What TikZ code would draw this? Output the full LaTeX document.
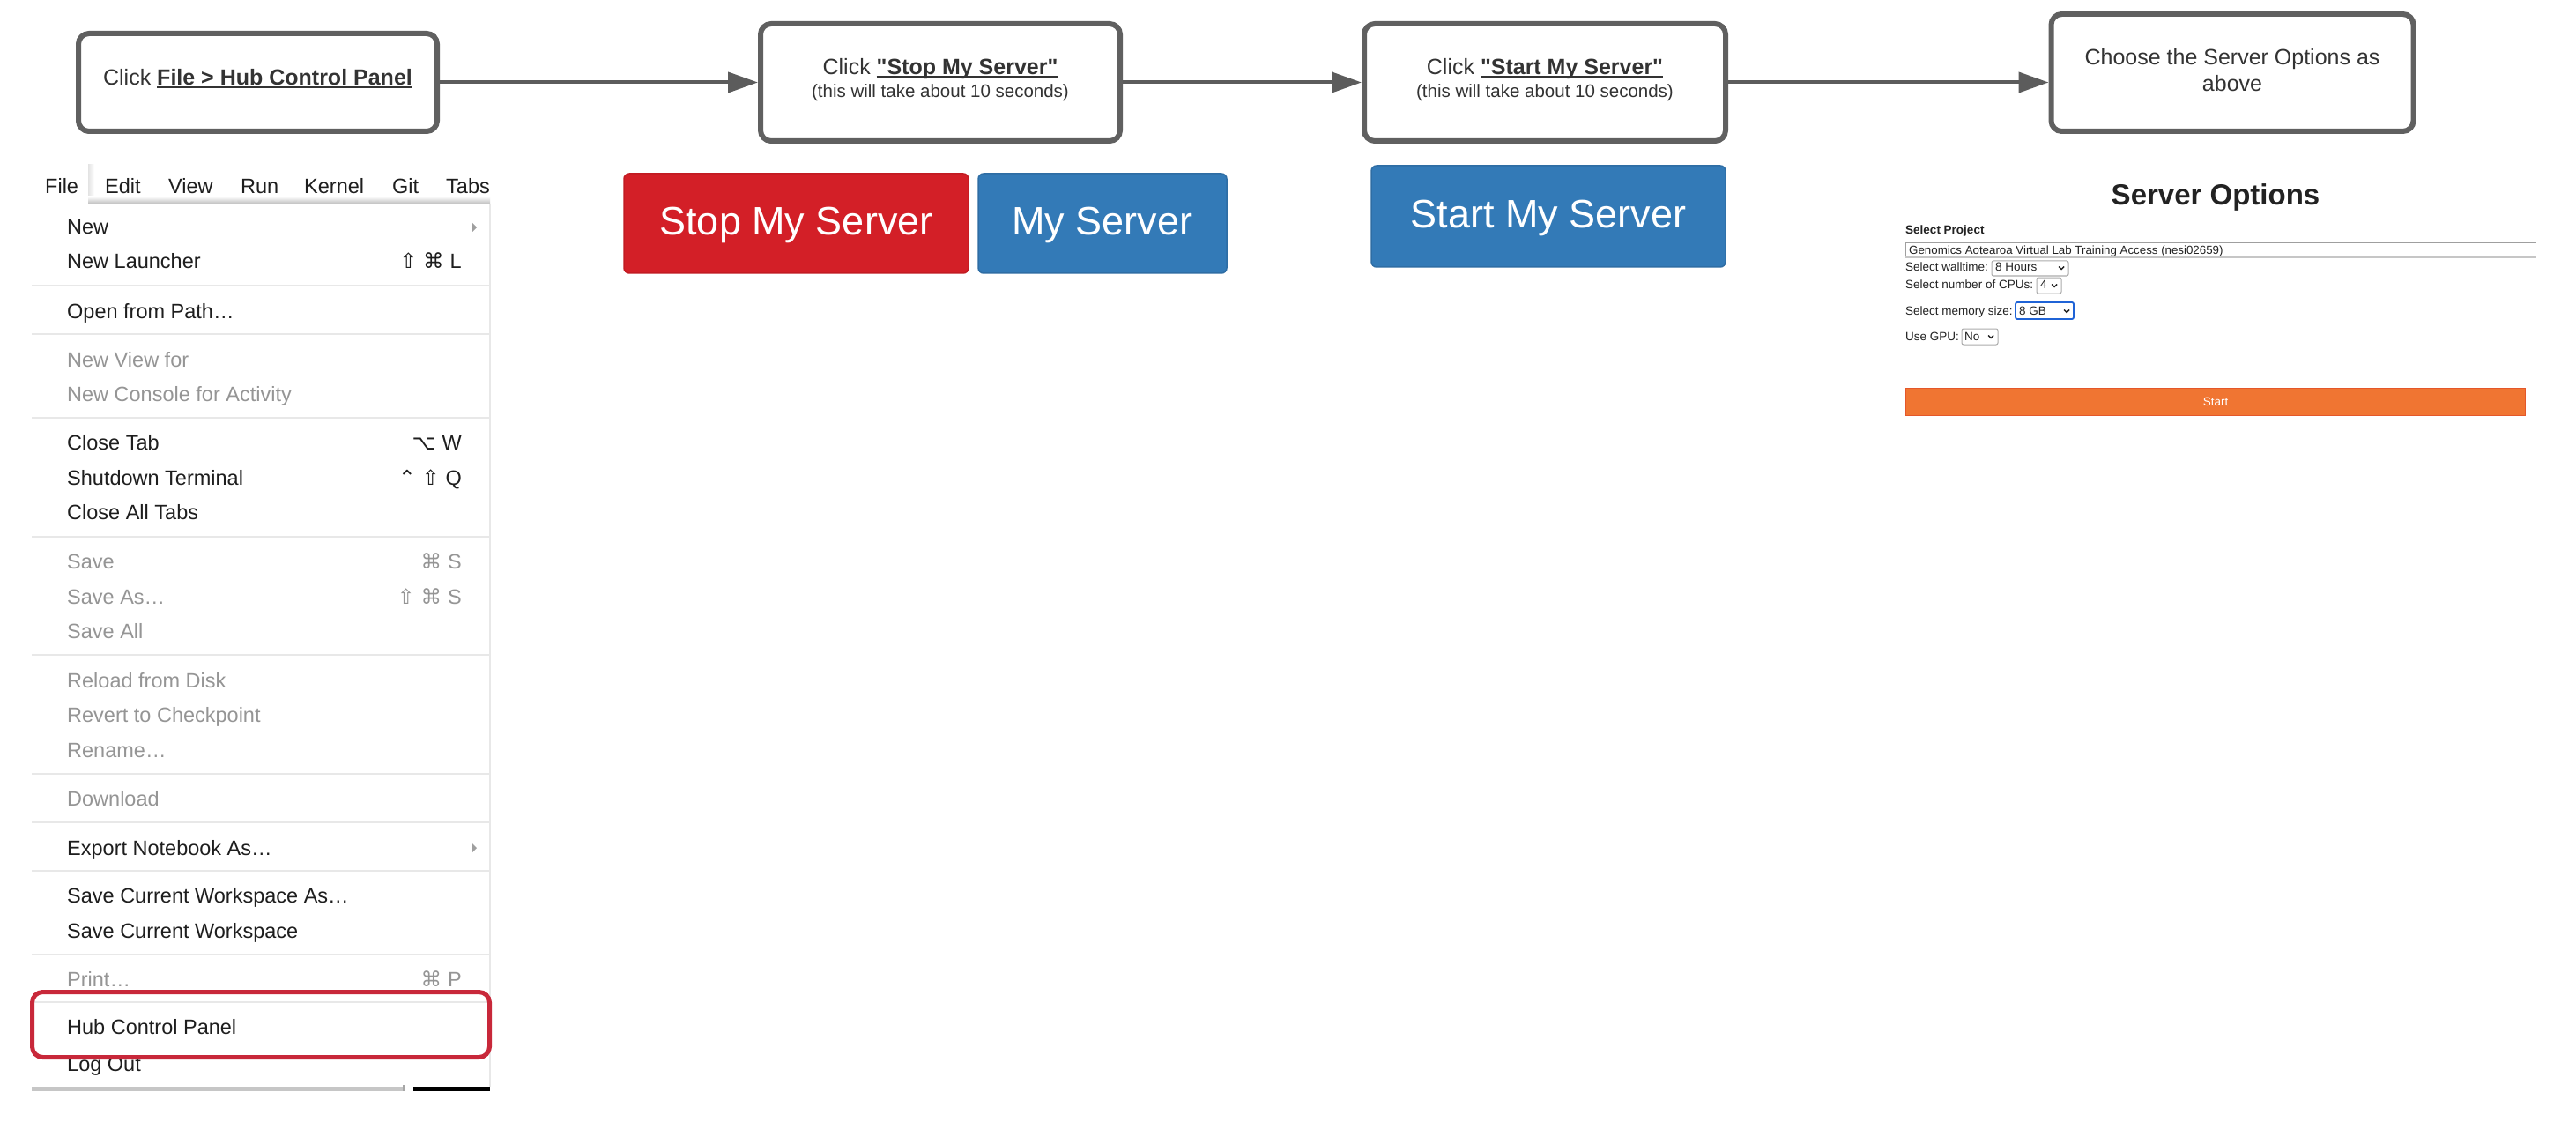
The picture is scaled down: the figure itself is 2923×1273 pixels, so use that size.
\documentclass[tikz,border=0pt]{standalone}
\usepackage{fontspec}
\setmainfont{Liberation Sans}[Ligatures=TeXOff]
\newfontfamily\symf{DejaVu Sans}
\usetikzlibrary{arrows.meta}

\definecolor{boxgray}{HTML}{606060}
\definecolor{arrgray}{HTML}{5C5C5C}
\definecolor{txtdark}{HTML}{333333}
\definecolor{btnred}{HTML}{D31F27}
\definecolor{btnredb}{HTML}{C21B22}
\definecolor{btnblue}{HTML}{337AB7}
\definecolor{btnblueb}{HTML}{2E6DA4}
\definecolor{startorange}{HTML}{F07532}
\definecolor{startborder}{HTML}{E4572A}
\definecolor{hilite}{HTML}{C8283A}
\definecolor{menutxt}{HTML}{1E1E1E}
\definecolor{menugray}{HTML}{959595}
\definecolor{sepgray}{HTML}{E8E8E8}
\definecolor{selblue}{HTML}{1F63D6}
\definecolor{fieldtxt}{HTML}{222222}

\newcommand\fs[1]{\fontsize{#1}{#1}\selectfont}
\newcommand\ulbold[1]{\setbox0\hbox{\bfseries #1}\rlap{\rule[-2.6pt]{\wd0}{1.9pt}}\box0}

\begin{document}
\begin{tikzpicture}[x=1pt,y=-1pt,
  stepbox/.style={draw=boxgray, line width=6pt, rounded corners=12pt, fill=white, inner sep=0pt},
  boxtxt/.style={anchor=base, font=\fs{25}, text=txtdark, inner sep=0pt},
  boxsmall/.style={anchor=base, font=\fs{20.5}, text=txtdark, inner sep=0pt},
  flow/.style={draw=arrgray, line width=4pt, -{Triangle[length=34pt,width=23pt]}},
  btn/.style={rounded corners=6pt, text=white, font=\fs{45}, inner sep=0pt, line width=1.5pt, text height=27pt, text depth=0pt},
  mtext/.style={anchor=base west, font=\fs{23.5}, text=menutxt, inner sep=0pt},
  mgray/.style={mtext, text=menugray},
  mkey/.style={anchor=base east, font=\fs{23.5}, text=menutxt, inner sep=0pt},
  mkeygray/.style={mkey, text=menugray},
  msep/.style={draw=sepgray, line width=2pt},
  subarrow/.style={fill=gray!75},
  formtxt/.style={anchor=base west, font=\fs{13.5}, text=fieldtxt, inner sep=0pt},
  dropbox/.style={draw=gray!65, line width=1pt, rounded corners=2pt, fill=white},
  chev/.style={draw=fieldtxt, line width=1.4pt}
]
\useasboundingbox (0,0) rectangle (2923,1273);
\fill[white] (0,0) rectangle (2923,1273);

% ---------- flow boxes ----------
\node[stepbox, minimum width=407pt, minimum height=111pt] (b1) at (292.5,93.5) {};
\node[boxtxt] (t1) at (292.5,97) {Click \ulbold{File > Hub Control Panel}};

\node[stepbox, minimum width=408pt, minimum height=133pt] (b2) at (1067,93.5) {};
\node[boxtxt] (t2a) at (1067,85) {Click \ulbold{"Stop My Server"}};
\node[boxsmall] (t2b) at (1067,111) {(this will take about 10 seconds)};

\node[stepbox, minimum width=410pt, minimum height=133pt] (b3) at (1753,93.5) {};
\node[boxtxt] (t3a) at (1753,85) {Click \ulbold{"Start My Server"}};
\node[boxsmall] (t3b) at (1753,111) {(this will take about 10 seconds)};

\node[stepbox, minimum width=411pt, minimum height=133pt] (b4) at (2533,82.5) {};
\node[boxtxt] (t4a) at (2533,74) {Choose the Server Options as};
\node[boxtxt] (t4b) at (2533,104) {above};

\draw[flow] (b1) -- (b2);
\draw[flow] (b2) -- (b3);
\draw[flow] (b3.east) -- (b3.east -| b4.west);

% ---------- buttons ----------
\node[btn, fill=btnred, draw=btnredb, minimum width=391pt, minimum height=113pt] (stop) at (903.5,253.5) {Stop My Server};
\node[btn, fill=btnblue, draw=btnblueb, minimum width=282pt, minimum height=113pt] (my) at (1251,253.5) {My Server};
\node[btn, fill=btnblue, draw=btnblueb, minimum width=402pt, minimum height=115pt] (start) at (1757,245.5) {Start My Server};

% ---------- server options ----------
\node[anchor=base, font=\bfseries\fs{33}, text=fieldtxt, inner sep=0pt] (sotitle) at (2514,233) {Server Options};
\node[formtxt, font=\bfseries\fs{13.5}] (selproj) at (2162,266) {Select Project};
\fill[white] (2162,275) rectangle (2878,293);
\draw[gray!75, line width=1pt] (2162.5,293) -- (2162.5,275.5) -- (2878,275.5);
\draw[gray!45, line width=2pt] (2162,292.5) -- (2878,292.5);
\node[formtxt, font=\fs{13.3}] (projval) at (2166,289) {Genomics Aotearoa Virtual Lab Training Access (nesi02659)};

\node[formtxt] (wall) at (2162,308) {Select walltime:};
\draw[dropbox] (2260,296) rectangle (2347,313);
\node[formtxt] (wallv) at (2264,308) {8 Hours};
\draw[chev] (2336,302.5) -- (2339,305.5) -- (2342,302.5);

\node[formtxt] (cpu) at (2162,327) {Select number of CPUs:};
\draw[dropbox] (2311,315) rectangle (2339,333);
\node[formtxt] (cpuv) at (2315,327) {4};
\draw[chev] (2328,322.5) -- (2331,325.5) -- (2334,322.5);

\node[formtxt] (mem) at (2162,357) {Select memory size:};
\draw[dropbox, draw=selblue, line width=1.8pt] (2287,343) rectangle (2353,362);
\node[formtxt] (memv) at (2291,357) {8 GB};
\draw[chev] (2342,351.5) -- (2345,354.5) -- (2348,351.5);

\node[formtxt] (gpu) at (2162,386) {Use GPU:};
\draw[dropbox] (2226,373) rectangle (2267,391);
\node[formtxt] (gpuv) at (2229,386) {No};
\draw[chev] (2256,380.5) -- (2259,383.5) -- (2262,380.5);

\node[fill=startorange, draw=startborder, line width=1pt, minimum width=703pt, minimum height=31pt, inner sep=0pt, text=white, font=\fs{13.5}] (startbar) at (2514,456) {Start};

% ---------- menu ----------
\shade[left color=gray!22, right color=white] (100,187) rectangle (107,230);
\shade[top color=white, bottom color=gray!50] (100,223) rectangle (556,231);
\begin{scope}
\clip (0,180) rectangle (556,240);
\node[mtext] (mfile) at (51,220) {File};
\node[mtext] (medit) at (119,220) {Edit};
\node[mtext] (mview) at (191,220) {View};
\node[mtext] (mrun) at (273,220) {Run};
\node[mtext] (mkern) at (345,220) {Kernel};
\node[mtext] (mgit) at (445,220) {Git};
\node[mtext] (mtabs) at (506,220) {Tabs};
\end{scope}
\draw[gray!18, line width=1.5pt] (556,231) -- (556,1233);

\node[mtext] (i1) at (76,266) {New};
\fill[subarrow] (536,253) -- (541,258) -- (536,263) -- cycle;
\node[mtext] (i2) at (76,305) {New Launcher};
\node[mkey] (k2) at (524,305) {{\symf ⇧}\hspace{7pt}{\symf ⌘}\hspace{7pt}L};
\draw[msep] (36,324) -- (556,324);
\node[mtext] (i3) at (76,361) {Open from Path…};
\draw[msep] (36,379) -- (556,379);
\node[mgray] (i4) at (76,416) {New View for};
\node[mgray] (i5) at (76,455) {New Console for Activity};
\draw[msep] (36,474) -- (556,474);
\node[mtext] (i6) at (76,510) {Close Tab};
\node[mkey] (k6) at (524,510) {{\symf ⌥}\hspace{7pt}W};
\node[mtext] (i7) at (76,550) {Shutdown Terminal};
\node[mkey] (k7) at (524,550) {{\symf ⌃}\hspace{7pt}{\symf ⇧}\hspace{7pt}Q};
\node[mtext] (i8) at (76,589) {Close All Tabs};
\draw[msep] (36,609) -- (556,609);
\node[mgray] (i9) at (76,645) {Save};
\node[mkeygray] (k9) at (524,645) {{\symf ⌘}\hspace{7pt}S};
\node[mgray] (i10) at (76,685) {Save As…};
\node[mkeygray] (k10) at (524,685) {{\symf ⇧}\hspace{7pt}{\symf ⌘}\hspace{7pt}S};
\node[mgray] (i11) at (76,724) {Save All};
\draw[msep] (36,743) -- (556,743);
\node[mgray] (i12) at (76,780) {Reload from Disk};
\node[mgray] (i13) at (76,819) {Revert to Checkpoint};
\node[mgray] (i14) at (76,859) {Rename…};
\draw[msep] (36,878) -- (556,878);
\node[mgray] (i15) at (76,914) {Download};
\draw[msep] (36,933) -- (556,933);
\node[mtext] (i16) at (76,970) {Export Notebook As…};
\fill[subarrow] (536,957) -- (541,962) -- (536,967) -- cycle;
\draw[msep] (36,988) -- (556,988);
\node[mtext] (i17) at (76,1024) {Save Current Workspace As…};
\node[mtext] (i18) at (76,1064) {Save Current Workspace};
\draw[msep] (36,1083) -- (556,1083);
\node[mgray] (i19) at (76,1119) {Print…};
\node[mkeygray] (k19) at (524,1119) {{\symf ⌘}\hspace{7pt}P};
\draw[msep] (36,1137) -- (556,1137);
\node[mtext] (i20) at (76,1173) {Hub Control Panel};
\node[mtext] (i21) at (76,1215) {Log Out};
\fill[gray!45] (36,1233) rectangle (457,1238);
\fill[gray!70] (457,1231) rectangle (459,1238);
\fill[black] (469,1233) rectangle (556,1238);

\draw[hilite, line width=5pt, rounded corners=12pt] (36.5,1125.5) rectangle (555.5,1199.5);
\end{tikzpicture}
\end{document}
